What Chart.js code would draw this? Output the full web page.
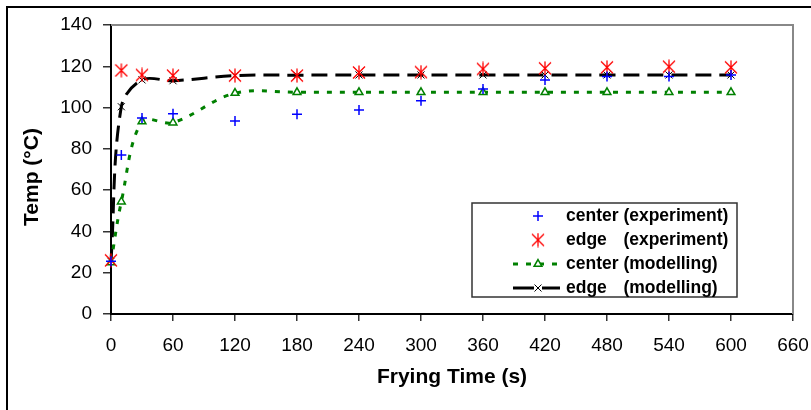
<!DOCTYPE html>
<html>
<head>
<meta charset="utf-8">
<script src="https://cdn.jsdelivr.net/npm/chart.js@4.4.1/dist/chart.umd.min.js"></script>
<style>
  html, body { margin: 0; padding: 0; background: #fff; }
  canvas { display: block; }
</style>
</head>
<body>
<canvas id="tempChart" width="811" height="410"></canvas>
<script>
// data
const times = [0, 10, 30, 60, 120, 180, 240, 300, 360, 420, 480, 540, 600];
const centerExp = [25.5, 77, 95, 97, 93.5, 96.8, 98.8, 103.3, 109, 113.4, 115, 115, 115.8];
const edgeExp = [26, 118, 115.8, 115.5, 115.5, 115.5, 117, 117.2, 118.7, 119, 119.5, 119.8, 119.5];
const centerModel = [25, 54.4, 93.2, 92.7, 107, 107.4, 107.4, 107.4, 107.4, 107.4, 107.4, 107.4, 107.4];
const edgeModel = [25.5, 100.4, 113.4, 113, 115.5, 115.7, 115.8, 115.8, 115.8, 115.8, 115.8, 115.8, 115.8];

const xTicks = [0, 60, 120, 180, 240, 300, 360, 420, 480, 540, 600, 660];
const yTicks = [0, 20, 40, 60, 80, 100, 120, 140];

const yTitle = "Temp (°C)";
const legendLabels = [
  ["center", "(experiment)"],
  ["edge", "(experiment)"],
  ["center", "(modelling)"],
  ["edge", "(modelling)"]
];

const FONT = "'Liberation Sans', Arial, sans-serif";

function makeAsterisk(color) {
  const c = document.createElement("canvas");
  c.width = 14;
  c.height = 15;
  const g = c.getContext("2d");
  g.strokeStyle = color;
  g.lineWidth = 1.3;
  g.beginPath();
  g.moveTo(7, 0.5); g.lineTo(7, 14.5);
  g.moveTo(1, 1.5); g.lineTo(13, 13.5);
  g.moveTo(13, 1.5); g.lineTo(1, 13.5);
  g.stroke();
  return c;
}
const asterisk = makeAsterisk("#ff0000");

function pairs(ys) {
  return times.map((t, i) => ({ x: t, y: ys[i] }));
}

function drawPlus(ctx, x, y) {
  ctx.save();
  ctx.strokeStyle = "#0000ff";
  ctx.lineWidth = 1.5;
  ctx.beginPath();
  ctx.moveTo(x - 5, y); ctx.lineTo(x + 5, y);
  ctx.moveTo(x, y - 5); ctx.lineTo(x, y + 5);
  ctx.stroke();
  ctx.restore();
}

function drawTriangle(ctx, x, y) {
  const r = 4.5;
  ctx.save();
  ctx.strokeStyle = "#008000";
  ctx.fillStyle = "#fff";
  ctx.lineWidth = 1.5;
  ctx.beginPath();
  ctx.moveTo(x, y - r);
  ctx.lineTo(x + r * 0.866, y + r / 2);
  ctx.lineTo(x - r * 0.866, y + r / 2);
  ctx.closePath();
  ctx.fill();
  ctx.stroke();
  ctx.restore();
}

function drawX(ctx, x, y) {
  const o = 3.5;
  ctx.save();
  ctx.strokeStyle = "#000";
  ctx.lineWidth = 1;
  ctx.beginPath();
  ctx.moveTo(x - o, y - o); ctx.lineTo(x + o, y + o);
  ctx.moveTo(x + o, y - o); ctx.lineTo(x - o, y + o);
  ctx.stroke();
  ctx.restore();
}

const framePlugin = {
  id: "frame",
  beforeDraw(chart) {
    const ctx = chart.ctx;
    ctx.save();
    ctx.fillStyle = "#fff";
    ctx.fillRect(0, 0, chart.width, chart.height);
    ctx.strokeStyle = "#000";
    ctx.lineWidth = 2;
    ctx.beginPath();
    ctx.moveTo(7, chart.height + 2);
    ctx.lineTo(7, 7);
    ctx.lineTo(chart.width + 2, 7);
    ctx.stroke();

    // y axis title, sits a little below the plot centre in the reference
    ctx.translate(32, 177);
    ctx.rotate(-Math.PI / 2);
    ctx.font = "bold 21px " + FONT;
    ctx.fillStyle = "#000";
    ctx.textAlign = "center";
    ctx.textBaseline = "middle";
    ctx.fillText(yTitle, 0, 0);
    ctx.restore();
  },
  beforeDatasetsDraw(chart) {
    const { ctx, chartArea: a } = chart;
    ctx.save();
    ctx.strokeStyle = "#888";
    ctx.lineWidth = 2;
    ctx.beginPath();
    ctx.moveTo(a.left, a.top);
    ctx.lineTo(a.right, a.top);
    ctx.lineTo(a.right, a.bottom);
    ctx.stroke();
    ctx.restore();
  },
  afterDraw(chart) {
    const ctx = chart.ctx;
    const box = { x: 472, y: 203, w: 265, h: 94 };
    ctx.save();
    ctx.fillStyle = "#fff";
    ctx.fillRect(box.x, box.y, box.w, box.h);
    ctx.strokeStyle = "#333";
    ctx.lineWidth = 1.5;
    ctx.strokeRect(box.x, box.y, box.w, box.h);

    ctx.font = "bold 17.5px " + FONT;
    ctx.fillStyle = "#000";
    ctx.textBaseline = "middle";
    const textX = 566;
    const parenX = textX + ctx.measureText("center ").width;
    const rows = [216, 240, 264, 288];
    rows.forEach((ry, i) => {
      ctx.fillText(legendLabels[i][0], textX, ry);
      ctx.fillText(legendLabels[i][1], parenX, ry);
    });

    const sx = 538;
    drawPlus(ctx, sx, rows[0]);
    ctx.drawImage(asterisk, sx - 7, rows[1] - 7.5);

    ctx.strokeStyle = "#008000";
    ctx.lineWidth = 3;
    ctx.setLineDash([5, 8]);
    ctx.beginPath();
    ctx.moveTo(513, rows[2]); ctx.lineTo(562, rows[2]);
    ctx.stroke();
    ctx.setLineDash([]);
    drawTriangle(ctx, sx, rows[2]);

    ctx.strokeStyle = "#000";
    ctx.lineWidth = 3;
    ctx.beginPath();
    ctx.moveTo(513, rows[3]); ctx.lineTo(560, rows[3]);
    ctx.stroke();
    ctx.fillStyle = "#fff";
    ctx.fillRect(sx - 4, rows[3] - 4, 8, 8);
    drawX(ctx, sx, rows[3]);
    ctx.restore();
  }
};

new Chart(document.getElementById("tempChart"), {
  type: "scatter",
  data: {
    datasets: [
      {
        label: "center (experiment)",
        data: pairs(centerExp),
        pointStyle: "cross",
        radius: 5,
        borderColor: "#0000ff",
        borderWidth: 1.5,
        clip: false
      },
      {
        label: "edge (experiment)",
        data: pairs(edgeExp),
        pointStyle: asterisk,
        borderColor: "#ff0000",
        clip: false
      },
      {
        label: "center (modelling)",
        data: pairs(centerModel),
        showLine: true,
        tension: 0.35,
        borderColor: "#008000",
        borderWidth: 3,
        borderDash: [5, 8],
        pointStyle: "triangle",
        radius: 4.5,
        pointBorderWidth: 1.5,
        pointBorderColor: "#008000",
        pointBackgroundColor: "#fff",
        clip: false
      },
      {
        label: "edge (modelling)",
        data: pairs(edgeModel),
        showLine: true,
        tension: 0.35,
        borderColor: "#000",
        borderWidth: 3,
        borderDash: [16, 8],
        pointStyle: "crossRot",
        radius: 5,
        pointBorderWidth: 1,
        pointBorderColor: "#000",
        clip: false
      }
    ]
  },
  options: {
    responsive: false,
    animation: false,
    devicePixelRatio: 1,
    layout: { padding: { top: 25, right: 18, left: 0, bottom: 0 } },
    plugins: {
      legend: { display: false },
      tooltip: { enabled: false }
    },
    scales: {
      x: {
        type: "linear",
        min: 0,
        max: 660,
        afterBuildTicks: s => { s.ticks = xTicks.map(v => ({ value: v })); },
        afterFit: s => { s.height = 96; s.paddingLeft = 0; s.paddingRight = 0; },
        ticks: { color: "#000", font: { family: FONT, size: 19 }, padding: 13, maxRotation: 0, autoSkip: false },
        grid: { drawOnChartArea: false, drawTicks: true, tickLength: 7, color: "#333", lineWidth: 1.5 },
        border: { display: true, color: "#000", width: 2 },
        title: {
          display: true,
          text: "Frying Time (s)",
          color: "#000",
          font: { family: FONT, size: 21, weight: "bold" },
          padding: { top: 0, bottom: 20.4 }
        }
      },
      y: {
        type: "linear",
        min: 0,
        max: 140,
        afterBuildTicks: s => { s.ticks = yTicks.map(v => ({ value: v })); },
        afterFit: s => { s.width = 111; s.paddingTop = 0; s.paddingBottom = 0; },
        ticks: { color: "#000", font: { family: FONT, size: 19 }, padding: 11 },
        grid: { drawOnChartArea: false, drawTicks: true, tickLength: 8, color: "#333", lineWidth: 1.5 },
        border: { display: true, color: "#000", width: 2 },
        title: { display: false }
      }
    }
  },
  plugins: [framePlugin]
});
</script>
</body>
</html>
